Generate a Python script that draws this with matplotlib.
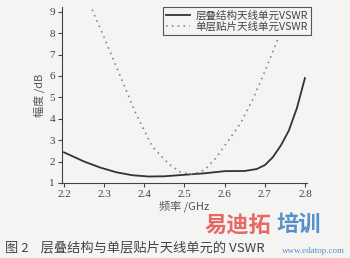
import numpy as np
import matplotlib.pyplot as plt

# stacked structure VSWR (solid)
freq_a = [2.20, 2.25, 2.29, 2.33, 2.37, 2.41, 2.45, 2.50, 2.55, 2.60, 2.65, 2.68, 2.70, 2.72, 2.74, 2.76, 2.78, 2.80]
vswr_a = [2.43, 2.0, 1.72, 1.5, 1.36, 1.3, 1.31, 1.38, 1.45, 1.55, 1.56, 1.65, 1.83, 2.2, 2.75, 3.45, 4.5, 5.9]

# single-layer patch VSWR (dotted)
freq_b = [2.27, 2.30, 2.34, 2.38, 2.42, 2.46, 2.49, 2.52, 2.55, 2.58, 2.61, 2.64, 2.67, 2.70, 2.73, 2.76]
vswr_b = [9.1, 7.8, 6.0, 4.2, 2.7, 1.9, 1.5, 1.4, 1.6, 2.2, 3.0, 3.8, 4.9, 6.2, 7.6, 9.1]

xticks = [2.2, 2.3, 2.4, 2.5, 2.6, 2.7, 2.8]
yticks = [1, 2, 3, 4, 5, 6, 7, 8, 9]

cjk = ['Noto Sans CJK SC', 'DejaVu Sans']
plt.rcParams['font.family'] = ['Liberation Serif', 'Noto Sans CJK SC']

fig = plt.figure(figsize=(3.5, 2.58), dpi=100, facecolor='#f4f4f2')
ax = fig.add_axes([0.177, 0.291, 0.700, 0.68])
ax.set_facecolor('#f4f4f2')

ax.plot(freq_a, vswr_a, color='#333333', lw=1.3, label='层叠结构天线单元VSWR')
ax.plot(freq_b, vswr_b, color='#888888', lw=1.2, ls=(0, (1, 2.5)), label='单层贴片天线单元VSWR')

ax.set_xlim(2.195, 2.805)
ax.set_ylim(1, 9.2)
ax.set_xticks(xticks)
ax.set_yticks(yticks)
ax.tick_params(labelsize=8, length=3, width=0.8, colors='#444444', pad=2)
for s in ['top', 'right']:
    ax.spines[s].set_visible(False)
for s in ['left', 'bottom']:
    ax.spines[s].set_color('#444444')

ax.set_xlabel('频率 /GHz', fontsize=8, color='#555555', labelpad=1, family=cjk)
ax.set_ylabel('幅度 /dB', fontsize=8, color='#555555', labelpad=3, family=cjk)

leg = ax.legend(loc='upper right', bbox_to_anchor=(1.04, 1.03),
                frameon=True, fancybox=False, handlelength=2.2,
                borderpad=0.3, labelspacing=0.05, handletextpad=0.6,
                prop={'family': cjk, 'size': 7.6})
leg.get_frame().set_edgecolor('#555555')
leg.get_frame().set_facecolor('#f4f4f2')
leg.get_frame().set_linewidth(0.8)
leg.get_frame().set_alpha(1)
for t in leg.get_texts():
    t.set_color('#444444')

fig.text(0.015, 0.025, '图 2    层叠结构与单层贴片天线单元的 VSWR', fontsize=9.5,
         color='#444444', family=cjk)

# watermark
fig.text(0.585, 0.1, '易迪拓', fontsize=16, color='#e8504e', alpha=0.85,
         family=cjk, weight='bold')
fig.text(0.79, 0.1, '培训', fontsize=16, color='#3a7fc4', alpha=0.85,
         family=cjk, weight='bold')
fig.text(0.985, 0.018, 'www.edatop.com', fontsize=6.5, color='#3a7fc4',
         alpha=0.85, ha='right')

fig.savefig('out.png', dpi=100, facecolor=fig.get_facecolor())
